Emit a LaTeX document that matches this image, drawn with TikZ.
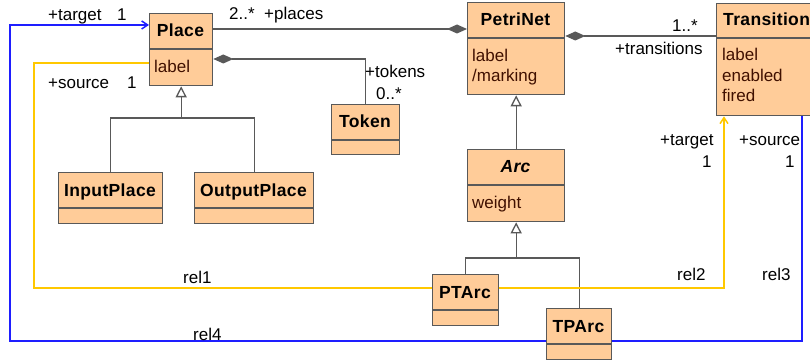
\documentclass[tikz,border=0pt]{standalone}
\usepackage{fontspec}
\setmainfont{Liberation Sans}
\usetikzlibrary{arrows.meta}
\definecolor{peach}{HTML}{FFCC99}
\definecolor{boxgray}{HTML}{595959}
\definecolor{attrbrown}{HTML}{401000}
\definecolor{relblue}{HTML}{1E1EFF}
\definecolor{relyellow}{HTML}{FFC800}
\tikzset{
  cls/.style={draw=boxgray, fill=peach, line width=1.3pt, rectangle, inner sep=0pt, anchor=north west},
  divl/.style={draw=boxgray, line width=1.3pt},
  cname/.style={font=\bfseries\fontsize{17.5}{20}\selectfont\addfontfeatures{LetterSpace=2}, anchor=base, inner sep=0pt},
  attr/.style={font=\fontsize{17}{20}\selectfont, text=attrbrown, anchor=base west, inner sep=0pt},
  lbl/.style={font=\fontsize{17}{20}\selectfont, anchor=base west, inner sep=0pt},
  assoc/.style={draw=boxgray, line width=1.3pt},
  gen/.style={assoc, -{Triangle[open, length=11pt, width=11pt]}},
  comp/.style={assoc, {Diamond[length=20pt, width=9pt]}-},
  yel/.style={draw=relyellow, line width=1.5pt},
  blu/.style={draw=relblue, line width=1.5pt},
  tipv/.style={-{Straight Barb[length=6pt, width=8pt]}}
}
\begin{document}
\begin{tikzpicture}[x=1pt, y=-1pt]
\useasboundingbox (0,0) rectangle (810,363);
\clip (0,0) rectangle (810,363);

% class boxes
\node[cls, minimum width=63pt, minimum height=72pt] (place) at (149,13) {};
\node[cls, minimum width=97pt, minimum height=92pt] (petrinet) at (467,2) {};
\node[cls, minimum width=110pt, minimum height=112pt] (transition) at (716,3) {};
\node[cls, minimum width=68pt, minimum height=50pt] (token) at (331,104) {};
\node[cls, minimum width=104pt, minimum height=51pt] (inputplace) at (58,172) {};
\node[cls, minimum width=119pt, minimum height=51pt] (outputplace) at (194,172) {};
\node[cls, minimum width=97pt, minimum height=72pt] (arc) at (467,149) {};
\node[cls, minimum width=66pt, minimum height=51pt] (ptarc) at (432,274) {};
\node[cls, minimum width=65pt, minimum height=51pt] (tparc) at (546,308) {};

% compartment dividers
\draw[divl] (place.west |- 0,49) -- (place.east |- 0,49);
\draw[divl] (petrinet.west |- 0,38) -- (petrinet.east |- 0,38);
\draw[divl] (transition.west |- 0,38) -- (transition.east |- 0,38);
\draw[divl] (token.west |- 0,140) -- (token.east |- 0,140);
\draw[divl] (inputplace.west |- 0,208) -- (inputplace.east |- 0,208);
\draw[divl] (outputplace.west |- 0,208) -- (outputplace.east |- 0,208);
\draw[divl] (arc.west |- 0,185) -- (arc.east |- 0,185);
\draw[divl] (ptarc.west |- 0,310) -- (ptarc.east |- 0,310);
\draw[divl] (tparc.west |- 0,344) -- (tparc.east |- 0,344);

% class names
\node[cname] (placeN) at (180.5,37) {Place};
\node[cname] (petrinetN) at (515.5,26) {PetriNet};
\node[cname, anchor=base west] (transitionN) at (723,26) {Transition};
\node[cname] (tokenN) at (365,128) {Token};
\node[cname] (inputplaceN) at (110,197) {InputPlace};
\node[cname] (outputplaceN) at (253.5,197) {OutputPlace};
\node[cname, font=\bfseries\itshape\fontsize{17.5}{20}\selectfont\addfontfeatures{LetterSpace=2}] (arcN) at (515.5,173) {Arc};
\node[cname] (ptarcN) at (465,298) {PTArc};
\node[cname] (tparcN) at (578.5,332) {TPArc};

% attributes
\node[attr] (placeA) at (154,73) {label};
\node[attr] (petrinetA1) at (472,62) {label};
\node[attr] (petrinetA2) at (472,82) {/marking};
\node[attr] (transitionA1) at (722,61) {label};
\node[attr] (transitionA2) at (722,82) {enabled};
\node[attr] (transitionA3) at (722,102) {fired};
\node[attr] (arcA) at (472,209) {weight};

% generalizations
\coordinate (pj) at (place.south |- 0,118);
\draw[assoc] (inputplace.north) |- (pj) -| (outputplace.north);
\draw[gen] (pj) -- (place.south);
\draw[gen] (arc.north) -- (petrinet.south);
\coordinate (aj) at (arc.south |- 0,258);
\draw[assoc] (ptarc.north) |- (aj) -| (tparc.north);
\draw[gen] (aj) -- (arc.south);

% compositions
\draw[comp] (petrinet.west |- 0,29) -- (place.east |- 0,29);
\draw[comp] (place.east |- 0,59) -| (token.north);
\draw[comp] (petrinet.east |- 0,36) -- (transition.west |- 0,36);

% relations between places, arcs and transitions
\coordinate (y1) at (34,288);
\coordinate (y2) at (724,288);
\draw[yel] (place.west |- 0,63) -| (y1) -- (ptarc.west |- y1);
\draw[yel, tipv] (ptarc.east |- y2) -- (y2) -- (y2 |- transition.south);
\coordinate (b1) at (10,341);
\coordinate (b3) at (802,341);
\draw[blu, tipv] (tparc.west |- b1) -- (b1) |- (place.west |- 0,25);
\draw[blu] (tparc.east |- b3) -- (b3) -- (b3 |- transition.south);

% role names and multiplicities
\node[lbl] (l1) at (48,21) {+target};
\node[lbl] (l2) at (117,21) {1};
\node[lbl] (l3) at (48,89) {+source};
\node[lbl] (l4) at (127,89) {1};
\node[lbl] (l5) at (229,20) {2..*};
\node[lbl] (l6) at (264,20) {+places};
\node[lbl] (l7) at (365,78) {+tokens};
\node[lbl] (l8) at (376,100) {0..*};
\node[lbl] (l9) at (672,32) {1..*};
\node[lbl] (l10) at (615,55) {+transitions};
\node[lbl] (l11) at (660,146) {+target};
\node[lbl] (l12) at (702,168) {1};
\node[lbl] (l13) at (739,146) {+source};
\node[lbl] (l14) at (785,168) {1};
\node[lbl] (r1) at (183,283) {rel1};
\node[lbl] (r2) at (677,280) {rel2};
\node[lbl] (r3) at (762,280) {rel3};
\node[lbl] (r4) at (193,340) {rel4};
\end{tikzpicture}
\end{document}
